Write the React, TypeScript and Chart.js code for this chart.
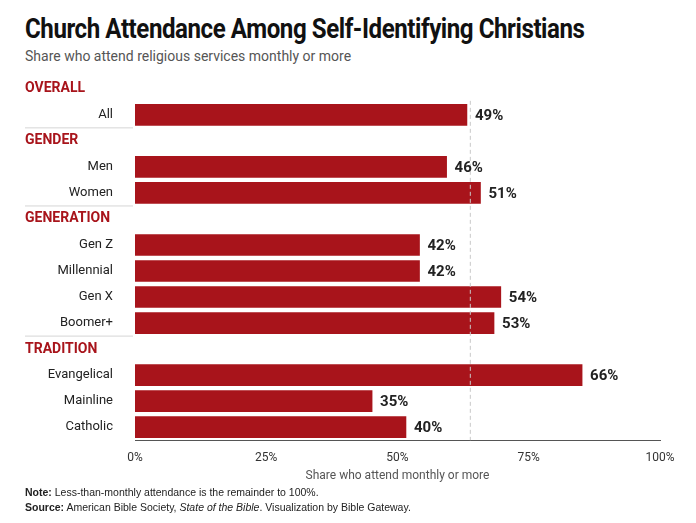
import React, { useEffect, useRef } from "react";
import { Chart, registerables } from "chart.js";
Chart.register(...registerables);

const categories = ["OVERALL", "All", "GENDER", "Men", "Women", "GENERATION", "Gen Z", "Millennial", "Gen X", "Boomer+", "TRADITION", "Evangelical", "Mainline", "Catholic"];
const headers = ["OVERALL", "GENDER", "GENERATION", "TRADITION"];
const values: (number | null)[] = [null, 49, null, 46, 51, null, 42, 42, 54, 53, null, 66, 35, 40];
const tickLabels = ["0%", "25%", "50%", "75%", "100%"];
const averageValue = 49.5;
const axisMax = 77.5;

const FONT = "'Liberation Sans Narrow', 'Roboto', sans-serif";
const RED = "#a8141b";

export default function App() {
  const ref = useRef<HTMLCanvasElement>(null);
  useEffect(() => {
    const overlay = {
      id: "overlay",
      afterDatasetsDraw(chart: any) {
        const { ctx, scales } = chart;
        const x = scales.x, y = scales.y;
        ctx.save();
        const ax = x.getPixelForValue(averageValue);
        ctx.strokeStyle = "#c8c8c8";
        ctx.setLineDash([4, 3]);
        ctx.lineWidth = 1;
        ctx.beginPath();
        ctx.moveTo(ax, y.getPixelForValue(1) - 14);
        ctx.lineTo(ax, chart.chartArea.bottom);
        ctx.stroke();
        ctx.setLineDash([]);
        categories.forEach((c, i) => {
          const py = y.getPixelForValue(i);
          if (headers.includes(c)) {
            ctx.fillStyle = RED;
            ctx.font = `bold 14px ${FONT}`;
            ctx.textAlign = "left";
            ctx.textBaseline = "middle";
            ctx.fillText(c, 25, py);
            if (i > 0) {
              ctx.strokeStyle = "#d5d5d5";
              ctx.beginPath();
              ctx.moveTo(25, py - 13);
              ctx.lineTo(133, py - 13);
              ctx.stroke();
            }
          }
          const v = values[i];
          if (v != null) {
            ctx.fillStyle = "#222";
            ctx.font = `bold 15px ${FONT}`;
            ctx.textAlign = "left";
            ctx.textBaseline = "middle";
            ctx.fillText(v + "%", x.getPixelForValue(v) + 8, py + 1);
          }
        });
        ctx.restore();
      },
    };
    const chart = new Chart(ref.current!, {
      type: "bar",
      data: {
        labels: categories,
        datasets: [{ data: values, backgroundColor: RED, barThickness: 21 }],
      },
      options: {
        indexAxis: "y",
        animation: false,
        responsive: false,
        layout: { padding: { top: 3, right: 36, left: 0, bottom: 0 } },
        plugins: { legend: { display: false }, tooltip: { enabled: false } },
        scales: {
          x: {
            min: 0,
            max: axisMax,
            grid: { display: false, drawTicks: true },
            border: { color: "#555", width: 1 },
            ticks: {
              stepSize: axisMax / 4,
              color: "#333",
              font: { family: FONT, size: 12 },
              callback: (_v: any, i: number) => tickLabels[i],
            },
            title: { display: true, text: "Share who attend monthly or more", color: "#555", font: { family: FONT, size: 12 }, padding: { top: 0 } },
          },
          y: {
            grid: { display: false },
            border: { display: false },
            afterFit: (s: any) => { s.width = 135; },
            ticks: {
              color: "#222",
              padding: 14,
              font: { family: FONT, size: 13 },
              callback: (_v: any, i: number) => (headers.includes(categories[i]) ? "" : categories[i]),
            },
          },
        },
      },
      plugins: [overlay],
    });
    return () => chart.destroy();
  }, []);
  return (
    <div style={{ position: "relative", width: 696, height: 523, margin: -8, background: "#fff", fontFamily: FONT, overflow: "hidden" }}>
      <div style={{ position: "absolute", left: 25, top: 12, fontSize: 28, fontWeight: 700, color: "#111", letterSpacing: -0.5, whiteSpace: "nowrap", transform: "scaleX(0.86)", transformOrigin: "left top" }}>Church Attendance Among Self-Identifying Christians</div>
      <div style={{ position: "absolute", left: 25, top: 48, fontSize: 14, color: "#555", fontFamily: "'Roboto', sans-serif" }}>Share who attend religious services monthly or more</div>
      <canvas ref={ref} width={696} height={433} style={{ position: "absolute", left: 0, top: 54 }} />
      <div style={{ position: "absolute", left: 25, top: 485, fontSize: 10.5, color: "#222", fontFamily: "'Liberation Sans', sans-serif", lineHeight: "15px" }}>
        <div><b>Note:</b> Less-than-monthly attendance is the remainder to 100%.</div>
        <div><b>Source:</b> American Bible Society, <i>State of the Bible</i>. Visualization by Bible Gateway.</div>
      </div>
    </div>
  );
}
